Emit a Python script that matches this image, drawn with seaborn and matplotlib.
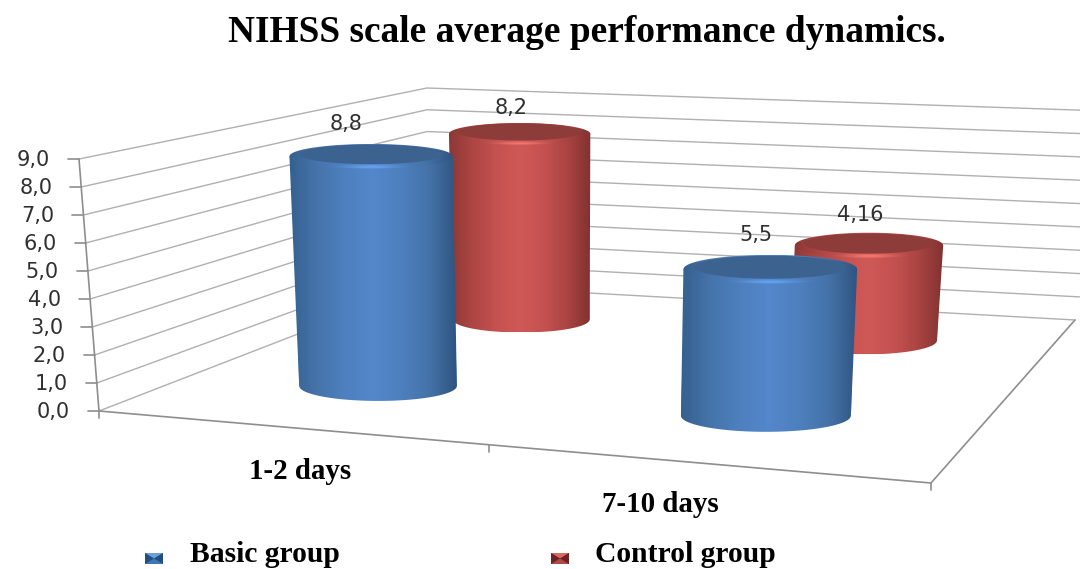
import numpy as np
import pandas as pd
import seaborn as sns
import matplotlib
matplotlib.use("Agg")
import matplotlib.pyplot as plt
from matplotlib.colors import LinearSegmentedColormap, to_rgb
from matplotlib.path import Path
from matplotlib.patches import PathPatch
from matplotlib.transforms import Affine2D

TITLE = "NIHSS scale average performance dynamics."
PERIODS = ["1-2 days", "7-10 days"]
GROUPS = ["Basic group", "Control group"]
BASIC_VALUES = [8.8, 5.5]
CONTROL_VALUES = [8.2, 4.16]
BAR_LABELS = [["8,8", "5,5"], ["8,2", "4,16"]]
AXIS_TICKS = [0, 1, 2, 3, 4, 5, 6, 7, 8, 9]
AXIS_LABELS = ["0,0", "1,0", "2,0", "3,0", "4,0", "5,0", "6,0", "7,0", "8,0", "9,0"]

# floor of the 3d box in pixels, used to project the bars
FLOOR = {"fl": (99, 411), "fr": (931, 483), "br": (1075, 320), "bl": (427, 284)}
# y of value 0 and value 9 on the three box edges
FRONT_X = (99, 79)
FRONT_Y = (411, 159)
BACK_LEFT_Y = (284, 88)
BACK_RIGHT_Y = (320, 110)

SERIF = "Liberation Serif"
SANS = "DejaVu Sans"
GRID = "#b0b0b0"
AXIS = "#8e8e8e"

BODY_STOPS = [
    ["#35608f", "#4674ab", "#4e80bf", "#5487cb", "#4e80bf", "#4573a9", "#2f5480"],
    ["#8b3835", "#ad4644", "#c45250", "#d05957", "#c45250", "#aa4442", "#803230"],
]
CAP_COLOR = ["#3c628f", "#8e3c3a"]
SHINE = ["#66a4f0", "#f47a70"]
SWATCH = [("#6ea0dc", "#234f80", "#3f76b4"), ("#d86a66", "#6c2422", "#b04a48")]
LABEL_OFFSETS = [[(-25, -32), (-14, -34)], [(-9, -26), (-9, -30)]]


def floor_point(u, v):
    # projective map of the unit square on the floor, returns x, y and w
    p00, p10, p11, p01 = [np.array(FLOOR[k], float) for k in ("fl", "fr", "br", "bl")]
    dx1, dx2, s = p10 - p11, p01 - p11, p00 - p10 + p11 - p01
    det = dx1[0] * dx2[1] - dx1[1] * dx2[0]
    g = (s[0] * dx2[1] - s[1] * dx2[0]) / det
    h = (dx1[0] * s[1] - dx1[1] * s[0]) / det
    w = g * u + h * v + 1
    p = (p10 - p00 + g * p10) * u + (p01 - p00 + h * p01) * v + p00
    return p[0] / w, p[1] / w, w


def clipped_image(ax, data, box, clip, cmap=None, zorder=3):
    im = ax.imshow(data, extent=box, aspect="auto", cmap=cmap, zorder=zorder,
                   interpolation="bilinear", vmin=0, vmax=1)
    im.set_clip_path(clip)


def add_clip(ax, xs, ys):
    verts = np.column_stack([xs, ys])
    verts = np.vstack([verts, verts[0]])
    codes = [Path.MOVETO] + [Path.LINETO] * (len(verts) - 2) + [Path.CLOSEPOLY]
    return PathPatch(Path(verts, codes), transform=ax.transData, fc="none", ec="none")


def draw_cylinder(ax, bar, row, period, text):
    value = bar.get_height()
    u = (period + 0.5) / 2 + 0.008
    v = 0.25 + 0.5 * row
    bx, by, w = floor_point(u, v)
    rx_b = bar.get_width() * 205 / w
    ry_b = rx_b * 0.19
    lean = 0.0041 * value
    tx = bx + (bx - 570) * lean
    ty = by - (27.9 - 2.9 * u) / w * value
    rx_t = rx_b * (1 + lean)
    ry_t = ry_b * (1 - 0.02 * value)
    z = 4 - row

    # seaborn's bar stays as the flat core of the cylinder
    bar.set_transform(Affine2D.from_values(
        2 * rx_b / bar.get_width(), 0, (tx - bx) / value, (ty - by) / value,
        bx - 2 * rx_b / bar.get_width() * (bar.get_x() + bar.get_width() / 2), by) + ax.transData)
    bar.set_zorder(z)
    bar.set_linewidth(0)

    cmap = LinearSegmentedColormap.from_list("body", BODY_STOPS[row])
    ramp = np.linspace(0, 1, 256)[None, :]
    t = np.linspace(0, np.pi, 60)
    xs = np.r_[bx + rx_b * np.cos(t), tx - rx_t, tx + rx_t]
    ys = np.r_[by + ry_b * np.sin(t), ty, ty]
    box = (min(xs.min(), tx - rx_t), max(xs.max(), tx + rx_t), ys.max(), ty)
    clipped_image(ax, ramp, box, add_clip(ax, xs, ys), cmap, z)

    # top of the cylinder: rim, darker inner ellipse and the light on the front of the rim
    t = np.linspace(0, 2 * np.pi, 120)
    box = (tx - rx_t, tx + rx_t, ty + ry_t, ty - ry_t)
    clipped_image(ax, ramp, box, add_clip(ax, tx + rx_t * np.cos(t), ty + ry_t * np.sin(t)), cmap, z)
    ax.fill(tx + rx_t * 0.875 * np.cos(t), ty - 2 + ry_t * 0.8 * np.sin(t),
            color=CAP_COLOR[row], lw=0, zorder=z)

    gx = np.linspace(-1, 1, 90)
    gy = np.linspace(-1, 1, 30)
    glow = np.zeros((30, 90, 4))
    glow[..., :3] = to_rgb(SHINE[row])
    glow[..., 3] = np.exp(-(gx / 0.3) ** 2)[None, :] * np.exp(-((gy + 0.25) / 0.3) ** 2)[:, None]
    box = (tx - rx_t, tx + rx_t, ty + ry_t + 6, ty + ry_t * 0.75 - 3)
    rim = np.r_[tx + rx_t * np.cos(t[:60]), tx + rx_t * 0.875 * np.cos(t[:60][::-1])]
    rim_y = np.r_[ty + ry_t * np.sin(t[:60]), ty - 2 + ry_t * 0.8 * np.sin(t[:60][::-1])]
    clipped_image(ax, glow, box, add_clip(ax, rim, rim_y), None, z)

    dx, dy = LABEL_OFFSETS[row][period]
    ax.text(tx + dx, ty + dy, text, ha="center", va="center", family=SANS,
            fontsize=15, color="#303030", zorder=6)


def draw_box(ax):
    x0, x9 = FRONT_X
    xb = FLOOR["bl"][0]
    xr = FLOOR["br"][0] + 5
    for tick, label in zip(AXIS_TICKS, AXIS_LABELS):
        f = tick / AXIS_TICKS[-1]
        fx = x0 + (x9 - x0) * f
        fy = FRONT_Y[0] + (FRONT_Y[1] - FRONT_Y[0]) * f
        by = BACK_LEFT_Y[0] + (BACK_LEFT_Y[1] - BACK_LEFT_Y[0]) * f
        ry = BACK_RIGHT_Y[0] + (BACK_RIGHT_Y[1] - BACK_RIGHT_Y[0]) * f
        end_x = xr if tick else FLOOR["br"][0]
        end_y = by + (ry - by) * (end_x - xb) / (FLOOR["br"][0] - xb)
        ax.plot([fx, xb, end_x], [fy, by, end_y], color=GRID, lw=1.0, zorder=1)
        ax.plot([fx - 11, fx], [fy, fy], color=AXIS, lw=1.2, zorder=1)
        ax.text(fx - 29, fy + 1, label, ha="right", va="center", family=SANS,
                fontsize=15, color="#303030")
    ax.plot(FRONT_X, FRONT_Y, color=AXIS, lw=1.2, zorder=1)

    fl, fr, br = FLOOR["fl"], FLOOR["fr"], FLOOR["br"]
    ax.plot([fl[0], fr[0], br[0]], [fl[1], fr[1], br[1]], color=AXIS, lw=1.2, zorder=1)
    for u in (0, 0.51, 1):
        x, y, _ = floor_point(u, 0)
        ax.plot([x, x], [y, y + 7], color=AXIS, lw=1.2, zorder=1)


def draw_swatch(ax, x, y, row):
    light, dark, mid = SWATCH[row]
    w, h = 18, 11
    ax.fill([x, x + w, x + w, x], [y, y, y + h, y + h], color=mid, lw=0)
    ax.fill([x, x + w, x + w / 2], [y, y, y + h / 2], color=light, lw=0)
    ax.fill([x, x + w / 2, x], [y, y + h / 2, y + h], color=dark, lw=0)
    ax.fill([x + w, x + w / 2, x + w], [y, y + h / 2, y + h], color=dark, lw=0)


def main():
    sns.set_theme(style="white")
    df = pd.DataFrame({
        "period": PERIODS * 2,
        "group": [GROUPS[0]] * 2 + [GROUPS[1]] * 2,
        "value": BASIC_VALUES + CONTROL_VALUES,
    })

    fig = plt.figure(figsize=(10.8, 5.69), dpi=100)
    ax = fig.add_axes([0, 0, 1, 1])
    sns.barplot(data=df, x="period", y="value", hue="group", ax=ax, legend=False,
                palette=[BODY_STOPS[0][3], BODY_STOPS[1][3]], saturation=1)

    draw_box(ax)
    for row, container in enumerate(ax.containers):
        for bar in container:
            period = int(round(bar.get_x() + bar.get_width() / 2))
            draw_cylinder(ax, bar, row, period, BAR_LABELS[row][period])

    ax.text(587, 32, TITLE, ha="center", va="center", family=SERIF, weight="bold",
            fontsize=26.9, color="black")
    ax.text(300, 471, PERIODS[0], ha="center", va="center", family=SERIF, weight="bold",
            fontsize=20.9, color="black")
    ax.text(660, 504, PERIODS[1], ha="center", va="center", family=SERIF, weight="bold",
            fontsize=20.9, color="black")

    draw_swatch(ax, 145, 553, 0)
    draw_swatch(ax, 551, 553, 1)
    ax.text(190, 562, GROUPS[0], ha="left", va="baseline", family=SERIF, weight="bold",
            fontsize=21.3, color="black")
    ax.text(595, 562, GROUPS[1], ha="left", va="baseline", family=SERIF, weight="bold",
            fontsize=21.3, color="black")

    ax.set_xlim(0, 1080)
    ax.set_ylim(569, 0)
    ax.axis("off")
    fig.savefig("out.png", dpi=100, facecolor="white")


if __name__ == "__main__":
    main()
